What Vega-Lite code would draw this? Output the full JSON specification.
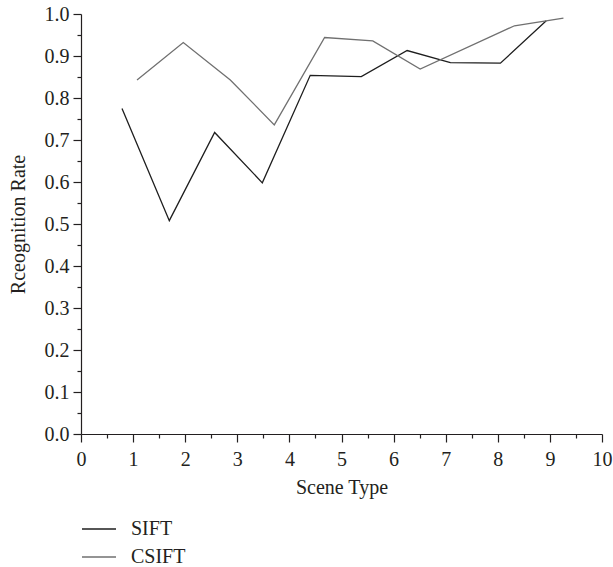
{
  "$schema": "https://vega.github.io/schema/vega-lite/v6.json",
  "autosize": "none",
  "width": 521,
  "height": 420,
  "padding": {"left": 81, "top": 14, "right": 11, "bottom": 133},
  "background": "white",
  "config": {
    "view": {"stroke": null},
    "font": "Liberation Serif",
    "axis": {
      "labelFont": "Liberation Serif",
      "titleFont": "Liberation Serif",
      "labelFontSize": 20,
      "titleFontSize": 20,
      "labelColor": "#231f20",
      "titleColor": "#231f20",
      "titleFontWeight": "normal",
      "domainColor": "#231f20",
      "tickColor": "#231f20",
      "domainWidth": 1.2,
      "tickWidth": 1.2,
      "grid": false
    },
    "legend": {
      "labelFont": "Liberation Serif",
      "labelFontSize": 20,
      "labelColor": "#231f20"
    }
  },
  "data": {
    "values": [
      {"scene": 0.787, "rate": 0.775, "series": "SIFT"},
      {"scene": 1.695, "rate": 0.508, "series": "SIFT"},
      {"scene": 2.565, "rate": 0.718, "series": "SIFT"},
      {"scene": 3.48, "rate": 0.598, "series": "SIFT"},
      {"scene": 4.4, "rate": 0.854, "series": "SIFT"},
      {"scene": 5.38, "rate": 0.851, "series": "SIFT"},
      {"scene": 6.26, "rate": 0.913, "series": "SIFT"},
      {"scene": 7.09, "rate": 0.884, "series": "SIFT"},
      {"scene": 8.05, "rate": 0.883, "series": "SIFT"},
      {"scene": 8.93, "rate": 0.984, "series": "SIFT"},
      {"scene": 1.075, "rate": 0.843, "series": "CSIFT"},
      {"scene": 1.963, "rate": 0.932, "series": "CSIFT"},
      {"scene": 2.866, "rate": 0.843, "series": "CSIFT"},
      {"scene": 3.71, "rate": 0.736, "series": "CSIFT"},
      {"scene": 4.676, "rate": 0.944, "series": "CSIFT"},
      {"scene": 5.6, "rate": 0.936, "series": "CSIFT"},
      {"scene": 6.51, "rate": 0.869, "series": "CSIFT"},
      {"scene": 8.32, "rate": 0.972, "series": "CSIFT"},
      {"scene": 9.26, "rate": 0.99, "series": "CSIFT"}
    ]
  },
  "mark": {"type": "line", "strokeWidth": 1.3, "clip": false},
  "encoding": {
    "x": {
      "field": "scene",
      "type": "quantitative",
      "title": "Scene Type",
      "scale": {"domain": [0, 10], "nice": false, "zero": false},
      "axis": {
        "values": [0, 0.5, 1, 1.5, 2, 2.5, 3, 3.5, 4, 4.5, 5, 5.5, 6, 6.5, 7, 7.5, 8, 8.5, 9, 9.5, 10],
        "labelExpr": "abs(datum.value - round(datum.value)) < 0.001 ? format(datum.value, 'd') : ''",
        "tickSize": 8,
        "tickDash": {"condition": {"test": "abs(datum.value - round(datum.value)) > 0.001", "value": [4, 20]}, "value": [20, 1]},
        "labelPadding": 7,
        "labelFlush": false,
        "labelOverlap": false,
        "titlePadding": 8
      }
    },
    "y": {
      "field": "rate",
      "type": "quantitative",
      "title": "Rceognition Rate",
      "scale": {"domain": [0, 1], "nice": false, "zero": true},
      "axis": {
        "values": [0, 0.05, 0.1, 0.15, 0.2, 0.25, 0.3, 0.35, 0.4, 0.45, 0.5, 0.55, 0.6, 0.65, 0.7, 0.75, 0.8, 0.85, 0.9, 0.95, 1.0],
        "labelExpr": "abs(datum.value * 10 - round(datum.value * 10)) < 0.001 ? format(datum.value, '.1f') : ''",
        "tickSize": 8,
        "tickDash": {"condition": {"test": "abs(datum.value * 10 - round(datum.value * 10)) > 0.001", "value": [4, 20]}, "value": [20, 1]},
        "labelPadding": 4,
        "labelFlush": false,
        "labelOverlap": false,
        "titlePadding": 16
      }
    },
    "color": {
      "field": "series",
      "type": "nominal",
      "scale": {"domain": ["SIFT", "CSIFT"], "range": ["#1e1e1e", "#707070"]},
      "legend": {
        "title": null,
        "orient": "none",
        "legendX": 0,
        "legendY": 497,
        "direction": "vertical",
        "symbolType": "stroke",
        "symbolSize": 1156,
        "symbolStrokeWidth": 1.3,
        "labelOffset": 14,
        "rowPadding": -8
      }
    }
  }
}
